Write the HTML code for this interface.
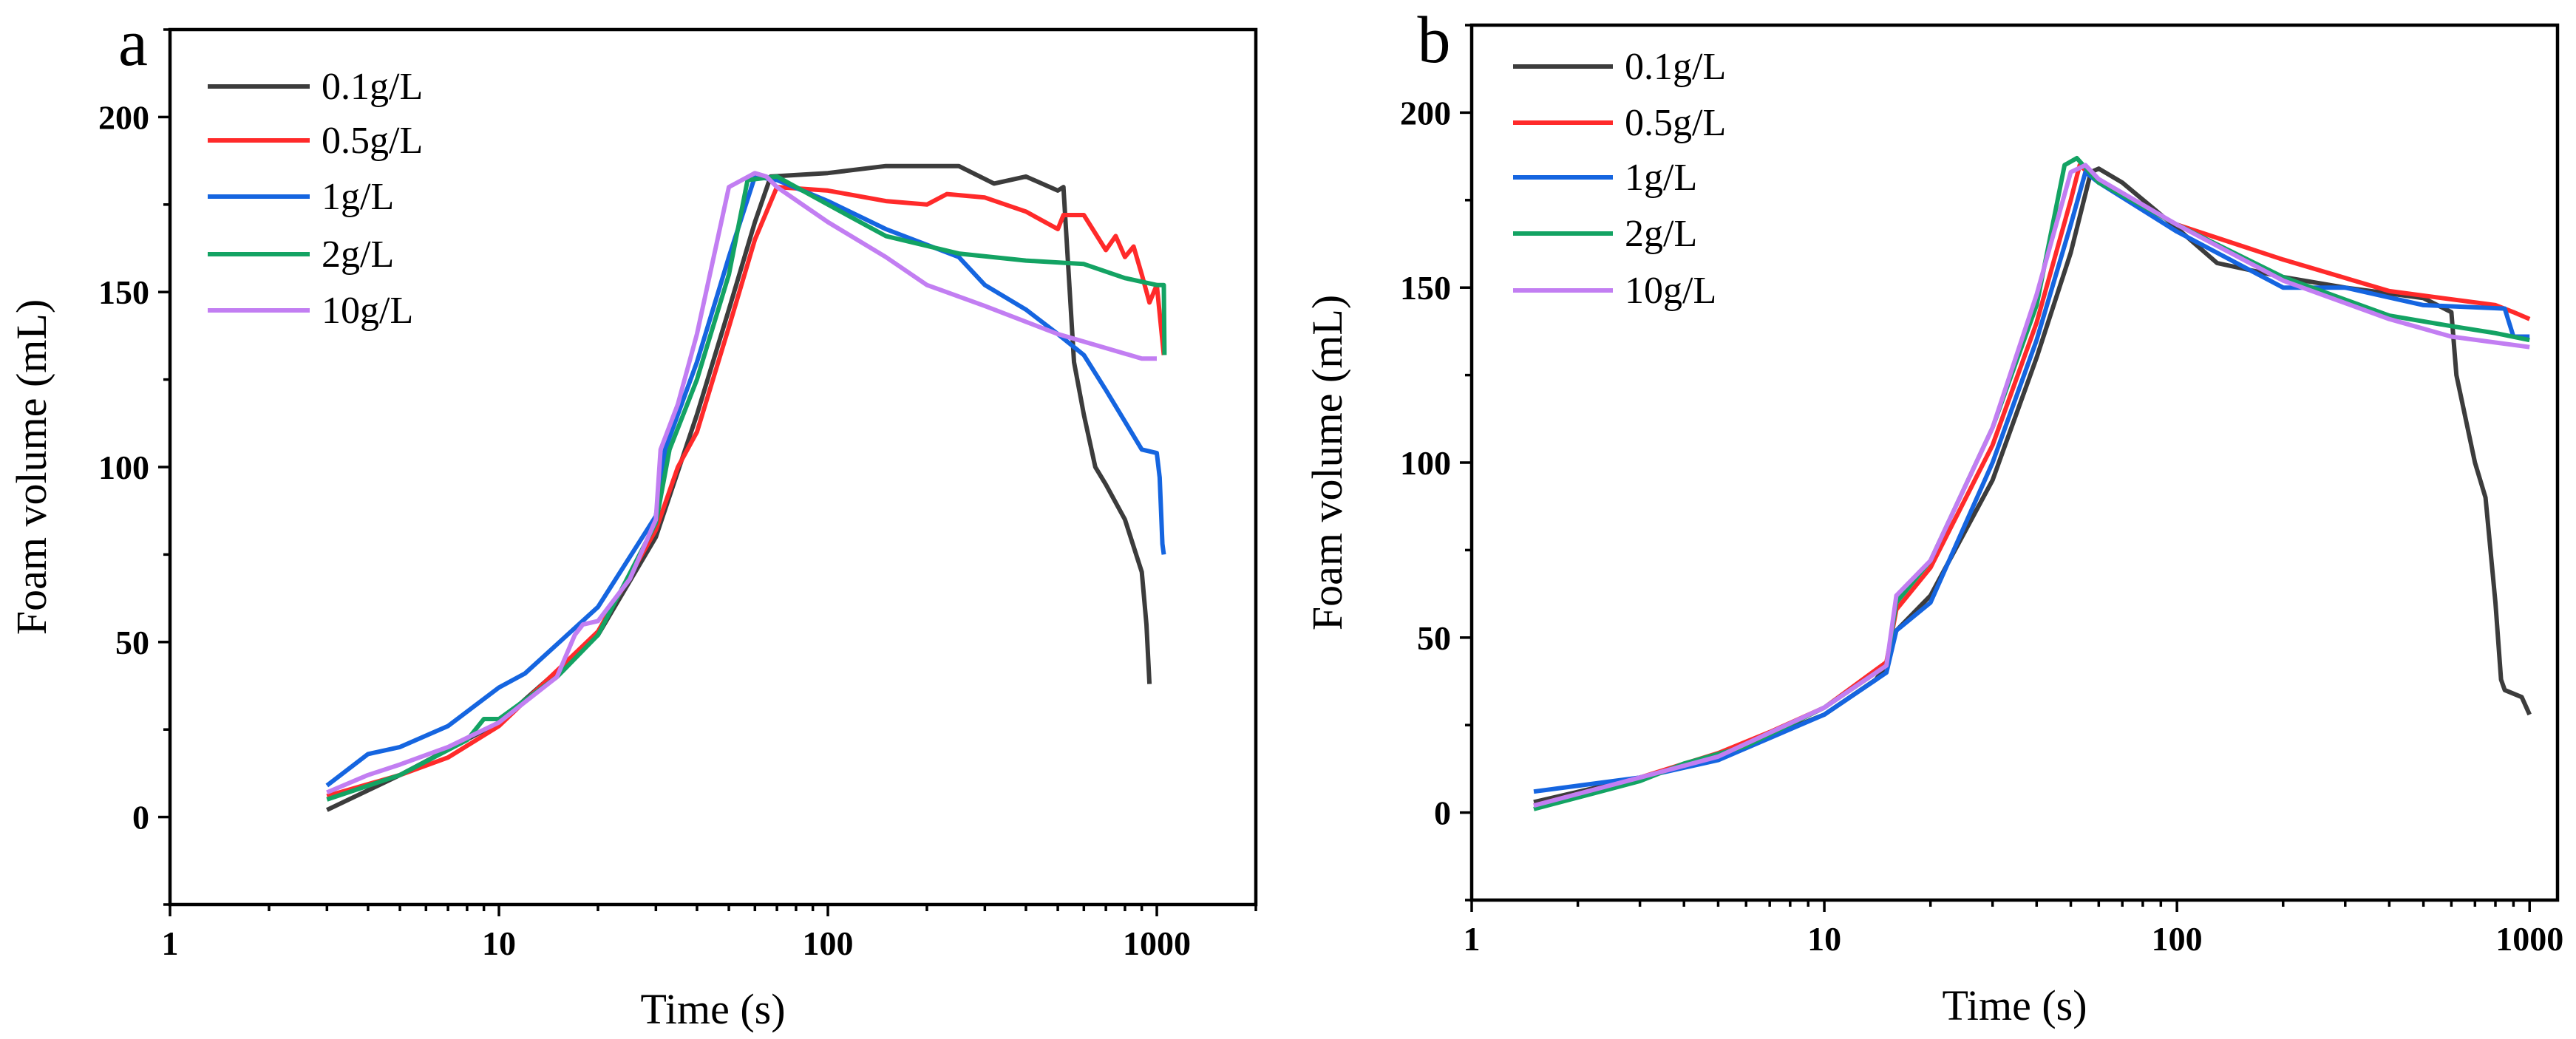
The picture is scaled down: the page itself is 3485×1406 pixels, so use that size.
<!DOCTYPE html>
<html><head><meta charset="utf-8"><style>
html,body{margin:0;padding:0;background:#fff}
svg{display:block}
text{font-family:"Liberation Serif",serif;fill:#000}
</style></head><body>
<svg id="fig" width="3485" height="1406" xmlns="http://www.w3.org/2000/svg"></svg>
<script>
const seriesNames=["0.1g/L","0.5g/L","1g/L","2g/L","10g/L"];
const seriesColors=["#3c3c3c","#ff2a2a","#1565e0","#13a363","#c27ef2"];
const xTicks=[1,10,100,1000];
const yTicks=[0,50,100,150,200];
// Panel a
const aBlackX=[3,5,10,20,30,40,50,60,67,100,150,250,320,400,500,520,560,600,650,700,800,900,930,950];
const aBlackY=[2,12,27,52,80,115,145,170,183,184,186,186,181,183,179,180,130,115,100,95,85,70,55,38];
const aRedX=[3,5,7,10,20,30,35,40,50,60,70,100,150,200,230,300,400,500,520,600,700,750,800,850,900,950,1000,1050];
const aRedY=[6,12,17,26,53,82,100,110,140,165,180,179,176,175,178,177,173,168,172,172,162,166,160,163,155,147,152,132];
const aBlueX=[3,4,5,7,10,12,20,30,32,40,50,60,70,100,150,250,300,400,500,600,700,800,900,1000,1020,1040,1050];
const aBlueY=[9,18,20,26,37,41,60,86,105,130,160,183,182,176,168,160,152,145,138,132,122,113,105,104,97,78,75];
const aGreenX=[3,5,8,9,10,15,20,30,33,40,50,57,70,100,150,250,400,600,800,1000,1050,1055];
const aGreenY=[5,12,22,28,28,40,52,84,105,125,155,182,183,175,166,161,159,158,154,152,152,132];
const aPurpleX=[3,4,5,7,10,15,17,18,20,25,30,31,35,40,50,60,65,70,100,150,200,300,500,700,900,1000];
const aPurpleY=[7,12,15,20,27,40,52,55,56,68,85,105,118,138,180,184,183,180,170,160,152,146,138,134,131,131];
// Panel b
const bBlackX=[1.5,3,5,10,14,15,16,20,30,40,50,57,60,70,100,130,200,300,500,600,620,700,750,800,830,850,950,1000];
const bBlackY=[3,10,16,28,38,42,52,62,95,130,160,183,184,180,167,157,153,150,147,143,125,100,90,60,38,35,33,28];
const bRedX=[1.5,3,5,7,10,15,16,20,30,40,50,53,60,100,200,400,800,900,1000];
const bRedY=[2,10,17,23,30,43,58,70,105,140,175,185,180,168,158,149,145,143,141];
const bBlueX=[1.5,3,5,10,15,16,20,30,40,50,55,60,100,200,300,500,850,900,1000];
const bBlueY=[6,10,15,28,40,52,60,100,135,168,183,180,166,150,150,145,144,136,136];
const bGreenX=[1.5,3,4,6,10,15,16,20,30,40,48,52,60,100,200,400,600,800,1000];
const bGreenY=[1,9,14,19,30,42,60,72,110,145,185,187,180,168,153,142,139,137,135];
const bPurpleX=[1.5,3,5,10,15,16,20,30,40,50,55,60,100,200,400,600,1000];
const bPurpleY=[2,10,16,30,42,62,72,110,148,183,185,181,168,152,141,136,133];

const NS="http://www.w3.org/2000/svg";
const svg=document.getElementById('fig');
function mk(tag,attrs,parent){const e=document.createElementNS(NS,tag);for(const k in attrs)e.setAttribute(k,attrs[k]);(parent||svg).appendChild(e);return e;}

function panel(cfg){
  const g=mk('g',{});
  
  
  const L=cfg.left,R=cfg.right,T=cfg.top,B=cfg.bottom;
  const xMin=0,xMax=Math.log10(cfg.xmax),yMin=-25,yMax=225;
  const sx=v=>L+(Math.log10(v)-xMin)/(xMax-xMin)*(R-L);
  const sy=v=>B-(v-yMin)/(yMax-yMin)*(B-T);
  cfg.series.forEach((s,i)=>{
    const d=s.x.map((xv,j)=>(j?'L':'M')+sx(xv).toFixed(1)+' '+sy(s.y[j]).toFixed(1)).join(' ');
    const p=mk('path',{d:d,fill:'none',stroke:seriesColors[i],'stroke-width':6,'stroke-linejoin':'round'},g);
    
    
  });
  const fr=mk('rect',{x:L,y:T,width:R-L,height:B-T,fill:'none',stroke:'#000','stroke-width':4.5},g);
  
  
  for(let dec=1;dec<=1000;dec*=10){
    for(let m=1;m<10;m++){
      const v=dec*m; if(Math.log10(v)>xMax) break;
      const X=sx(v); const len=m===1?16:9;
      mk('line',{x1:X,y1:B,x2:X,y2:B+len,stroke:'#000','stroke-width':3.5},g);
    }
  }
  xTicks.forEach(v=>{
    const t=mk('text',{x:sx(v),y:B+68,'text-anchor':'middle','font-size':46,'font-weight':'bold'},g);
    t.textContent=v;
    
    
  });
  for(let v=-25;v<=225;v+=25){
    const Y=sy(v); const major=v%50===0;
    mk('line',{x1:L,y1:Y,x2:L-(major?16:9),y2:Y,stroke:'#000','stroke-width':3.5},g);
  }
  yTicks.forEach(v=>{
    const t=mk('text',{x:L-28,y:sy(v)+16,'text-anchor':'end','font-size':46,'font-weight':'bold'},g);
    t.textContent=v;
    
    
  });
  const xt=mk('text',{x:(L+R)/2,y:cfg.xTitleY,'text-anchor':'middle','font-size':58},g);
  xt.textContent='Time (s)';
  
  
  const yt=mk('text',{x:0,y:0,'text-anchor':'middle','font-size':58,transform:`translate(${cfg.yTitleX},${(T+B)/2}) rotate(-90)`},g);
  yt.textContent='Foam volume (mL)';
  
  
  const lt=mk('text',{x:cfg.letterX,y:cfg.letterY,'text-anchor':'middle','font-size':90},g);
  lt.textContent=cfg.letter;
  
  
  seriesNames.forEach((n,i)=>{
    const Y=cfg.legY[i];
    const ln=mk('line',{x1:cfg.legX1,y1:Y,x2:cfg.legX2,y2:Y,stroke:seriesColors[i],'stroke-width':6},g);
    
    
    const t=mk('text',{x:cfg.legX2+16,y:Y+17,'font-size':52},g);
    t.textContent=n;
    
    
  });
}

panel({letter:'a',left:230,right:1699,top:40,bottom:1224,xmax:2000,
  xTitleY:1385,yTitleX:62,letterX:180,letterY:88,
  legX1:281,legX2:419,legY:[117,190,266,344,420],
  series:[{x:aBlackX,y:aBlackY},{x:aRedX,y:aRedY},{x:aBlueX,y:aBlueY},{x:aGreenX,y:aGreenY},{x:aPurpleX,y:aPurpleY}]});
panel({letter:'b',left:1991,right:3460,top:34,bottom:1218,xmax:1200,
  xTitleY:1380,yTitleX:1815,letterX:1940,letterY:84,
  legX1:2047,legX2:2182,legY:[90,166,240,316,393],
  series:[{x:bBlackX,y:bBlackY},{x:bRedX,y:bRedY},{x:bBlueX,y:bBlueY},{x:bGreenX,y:bGreenY},{x:bPurpleX,y:bPurpleY}]});
</script>
</body></html>
